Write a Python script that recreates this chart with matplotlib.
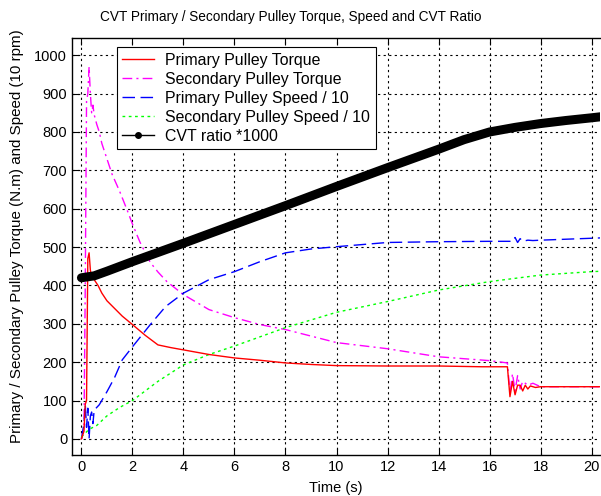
import matplotlib
matplotlib.use("Agg")
import matplotlib.pyplot as plt

plt.rcParams['font.family'] = ['Liberation Sans', 'DejaVu Sans']

# --- data ---
t_ptq = [0, 0.1, 0.15, 0.2, 0.25, 0.3, 0.35, 0.4, 0.5, 0.65, 0.8, 1.0, 1.3, 1.6, 2.0, 2.5, 3.0, 3.5,
         4.0, 5.0, 6.0, 7.0, 8.0, 9.0, 10.0, 12.0, 14.0, 15.7, 16.7, 16.8, 16.9, 17.0, 17.1, 17.2,
         17.3, 17.4, 17.5, 17.6, 17.8, 18.0, 20.4]
v_ptq = [0, 20, 90, 100, 470, 485, 440, 420, 415, 400, 380, 360, 340, 320, 298, 270, 245, 238,
         232, 220, 211, 205, 198, 194, 191, 190, 190, 188, 188, 110, 150, 115, 140, 140,
         125, 140, 130, 138, 134, 136, 136]

t_stq = [0, 0.1, 0.15, 0.2, 0.25, 0.3, 0.35, 0.4, 0.45, 0.5, 0.6, 0.7, 0.8, 1.0, 1.2, 1.5, 1.8, 2.0,
         2.3, 2.7, 3.0, 3.35, 4.0, 5.0, 6.0, 7.0, 8.0, 10.0, 12.0, 14.0, 16.0, 16.7, 16.8, 16.9,
         17.0, 17.1, 17.2, 17.3, 17.5, 17.7, 18.0, 20.4]
v_stq = [0, 30, 400, 880, 900, 970, 900, 850, 870, 845, 820, 800, 770, 730, 690, 645, 595, 560,
         512, 460, 435, 410, 376, 337, 316, 298, 285, 251, 235, 214, 204, 198, 120, 170,
         125, 165, 130, 150, 140, 145, 136, 136]

t_psp = [0, 0.1, 0.15, 0.2, 0.25, 0.3, 0.35, 0.4, 0.45, 0.5, 0.7, 1.0, 1.3, 1.6, 2.0, 2.7, 3.3,
         4.0, 5.0, 6.0, 7.0, 8.0, 9.0, 10.0, 12.0, 14.0, 16.0, 16.9, 17.0, 17.1, 17.2, 17.3,
         17.5, 17.7, 18.0, 20.4]
v_psp = [0, 40, 90, 30, 80, 0, 60, 70, 40, 75, 89, 123, 160, 206, 240, 298, 345,
         380, 415, 436, 462, 485, 495, 501, 512, 514, 515, 515, 525, 512, 522, 515,
         518, 517, 518, 524]

t_ssp = [0, 0.3, 0.6, 1.0, 1.5, 2, 3, 4, 5, 6, 8, 10, 12, 14, 16, 18, 20, 20.4]
v_ssp = [5, 25, 35, 60, 82, 100, 150, 193, 220, 242, 290, 330, 358, 388, 410, 427, 436, 437]

t_cvt = [0, 0.5, 1, 2, 4, 6, 8, 10, 12, 14, 15, 16, 17, 18, 19, 20, 20.4]
v_cvt = [420, 425, 437, 462, 510, 559, 608, 658, 707, 755, 780, 800, 812, 822, 830, 837, 840]

labels = ['Primary Pulley Torque', 'Secondary Pulley Torque', 'Primary Pulley Speed / 10',
          'Secondary Pulley Speed / 10', 'CVT ratio *1000']
xticks = list(range(0, 21, 2))
yticks = list(range(0, 1001, 100))

fig = plt.figure(figsize=(6.01, 4.96), dpi=100)
ax = fig.add_axes([72/601, 41/496, 528/601, 417/496])

ax.plot(t_ptq, v_ptq, color='#ff0000', lw=1.0, label=labels[0], zorder=4)
ax.plot(t_stq, v_stq, color='#ff00ff', lw=1.0, ls=(0, (7, 3, 1.5, 3)), label=labels[1], zorder=3)
ax.plot(t_psp, v_psp, color='#0000ff', lw=1.0, ls=(0, (9, 4)), label=labels[2], zorder=3)
ax.plot(t_ssp, v_ssp, color='#00ff00', lw=1.0, ls=(0, (2, 2.5)), label=labels[3], zorder=3)
ax.plot(t_cvt, v_cvt, color='k', lw=6.5, solid_capstyle='round', zorder=5)
ax.plot([], [], color='k', lw=1.0, marker='.', markersize=8, label=labels[4])

ax.set_xlim(-0.37, 20.33)
ax.set_ylim(-42, 1045)
ax.set_xticks(xticks)
ax.set_yticks(yticks)
ax.grid(True, color='k', ls=(0, (2, 3)), lw=0.8)
ax.tick_params(direction='in', length=5, top=True, right=False, labelsize=10.5, color='k')
for s in ax.spines.values():
    s.set_color('k')
    s.set_linewidth(1.0)
ax.spines['right'].set_visible(False)

ax.set_title('CVT Primary / Secondary Pulley Torque, Speed and CVT Ratio', fontsize=9.8, pad=12, x=0.415)
ax.set_xlabel('Time (s)', fontsize=10.5, labelpad=5)
ax.set_ylabel('Primary / Secondary Pulley Torque (N.m) and Speed (10 rpm)', fontsize=10.9)
ax.yaxis.set_label_coords(-0.09, 0.525)

leg = ax.legend(loc='upper left', bbox_to_anchor=(0.085, 0.978), borderaxespad=0,
                fancybox=False, framealpha=1, edgecolor='k', fontsize=11.4,
                handlelength=2.0, labelspacing=0.25, borderpad=0.35, handletextpad=0.7)
leg.get_frame().set_linewidth(0.8)

fig.savefig('out.png', dpi=100)
